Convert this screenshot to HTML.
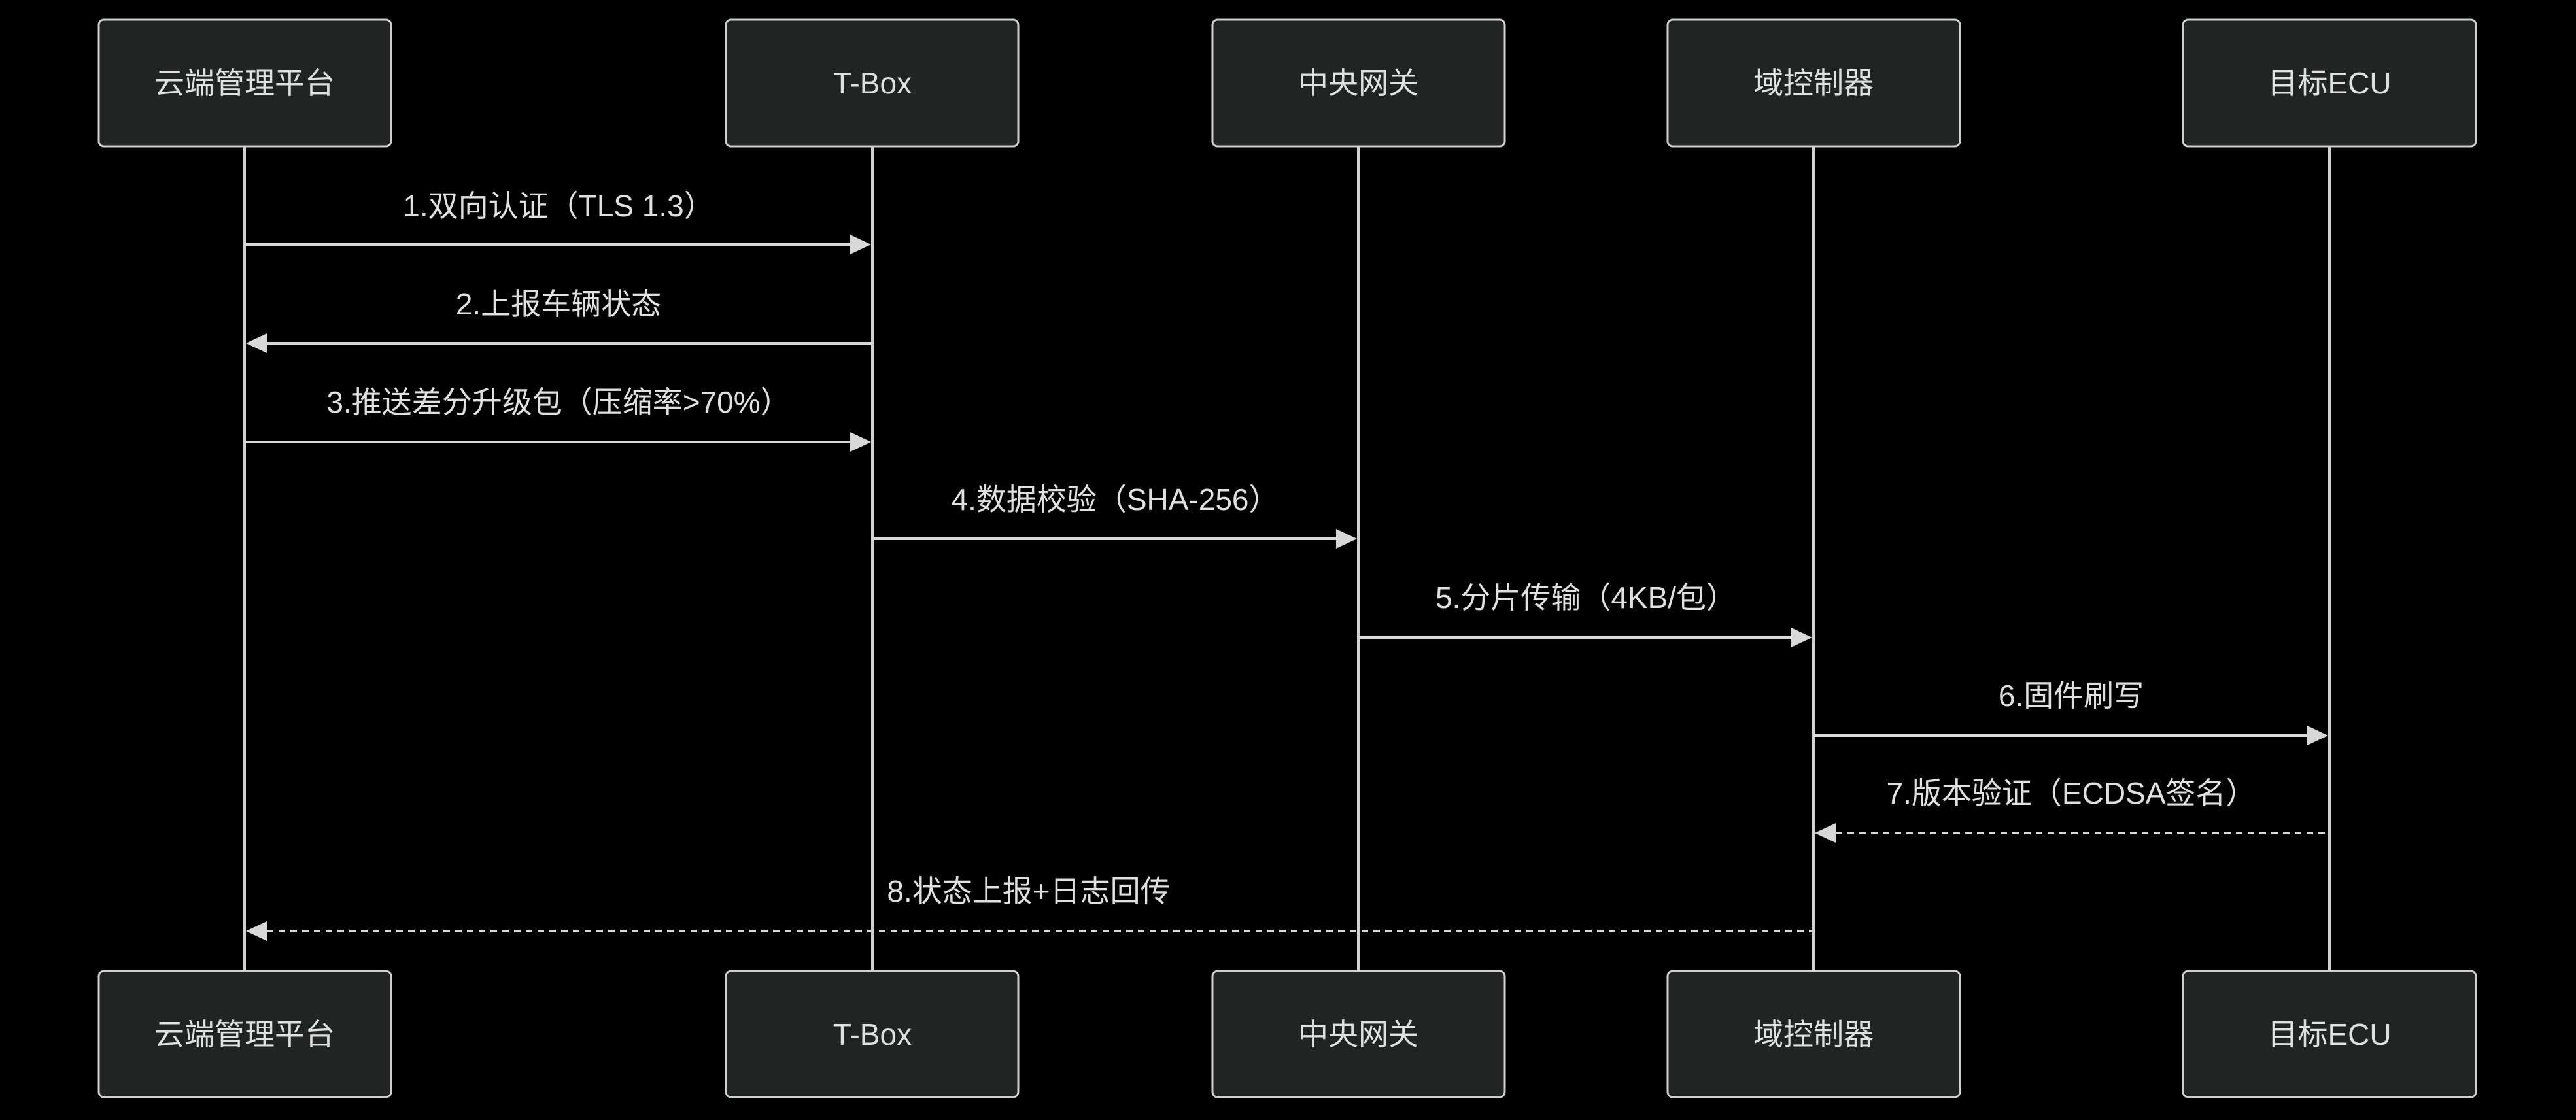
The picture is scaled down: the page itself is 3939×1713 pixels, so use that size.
<!DOCTYPE html>
<html><head><meta charset="utf-8"><style>
html,body{margin:0;padding:0;background:#000;}
svg{display:block;}
text{font-family:"Liberation Sans","Noto Sans CJK SC",sans-serif;fill:#e0e0e0;font-size:46px;text-anchor:middle;dominant-baseline:central;}
</style></head><body>
<svg width="3939" height="1713" viewBox="0 0 3939 1713" xmlns="http://www.w3.org/2000/svg">
<rect width="3939" height="1713" fill="#000"/>
<g stroke="#d0d0d0" stroke-width="4">
<line x1="374" y1="224" x2="374" y2="1485"/>
<line x1="1334" y1="224" x2="1334" y2="1485"/>
<line x1="2077" y1="224" x2="2077" y2="1485"/>
<line x1="2773" y1="224" x2="2773" y2="1485"/>
<line x1="3562" y1="224" x2="3562" y2="1485"/>
</g>
<g fill="#222424" stroke="#cfcfcf" stroke-width="3">
<rect x="151" y="30" width="447" height="194" rx="8"/>
<rect x="1110" y="30" width="447" height="194" rx="8"/>
<rect x="1854" y="30" width="447" height="194" rx="8"/>
<rect x="2550" y="30" width="447" height="194" rx="8"/>
<rect x="3338" y="30" width="448" height="194" rx="8"/>
<rect x="151" y="1485" width="447" height="193" rx="8"/>
<rect x="1110" y="1485" width="447" height="193" rx="8"/>
<rect x="1854" y="1485" width="447" height="193" rx="8"/>
<rect x="2550" y="1485" width="447" height="193" rx="8"/>
<rect x="3338" y="1485" width="448" height="193" rx="8"/>
</g>
<text x="374" y="127">云端管理平台</text>
<text x="1334" y="127">T-Box</text>
<text x="2077" y="127">中央网关</text>
<text x="2773" y="127">域控制器</text>
<text x="3562" y="127">目标ECU</text>
<text x="374" y="1582">云端管理平台</text>
<text x="1334" y="1582">T-Box</text>
<text x="2077" y="1582">中央网关</text>
<text x="2773" y="1582">域控制器</text>
<text x="3562" y="1582">目标ECU</text>
<g stroke="#d8d8d8" stroke-width="4">
<line x1="374" y1="374" x2="1300" y2="374"/>
<line x1="408" y1="525" x2="1334" y2="525"/>
<line x1="374" y1="676" x2="1300" y2="676"/>
<line x1="1334" y1="824" x2="2043" y2="824"/>
<line x1="2077" y1="975" x2="2739" y2="975"/>
<line x1="2773" y1="1125" x2="3528" y2="1125"/>
<line x1="2807" y1="1274" x2="3562" y2="1274" stroke-dasharray="10,8"/>
<line x1="408" y1="1424" x2="2773" y2="1424" stroke-dasharray="10,8"/>
</g>
<g fill="#d8d8d8">
<polygon points="1332,374 1300,359 1300,389"/>
<polygon points="376,525 408,510 408,540"/>
<polygon points="1332,676 1300,661 1300,691"/>
<polygon points="2075,824 2043,809 2043,839"/>
<polygon points="2771,975 2739,960 2739,990"/>
<polygon points="3560,1125 3528,1110 3528,1140"/>
<polygon points="2775,1274 2807,1259 2807,1289"/>
<polygon points="376,1424 408,1409 408,1439"/>
</g>
<text x="854" y="315">1.双向认证（TLS 1.3）</text>
<text x="854" y="465">2.上报车辆状态</text>
<text x="854" y="615">3.推送差分升级包（压缩率&gt;70%）</text>
<text x="1705" y="764">4.数据校验（SHA-256）</text>
<text x="2425" y="914">5.分片传输（4KB/包）</text>
<text x="3167" y="1064">6.固件刷写</text>
<text x="3167" y="1213">7.版本验证（ECDSA签名）</text>
<text x="1573" y="1363">8.状态上报+日志回传</text>
</svg>
</body></html>
